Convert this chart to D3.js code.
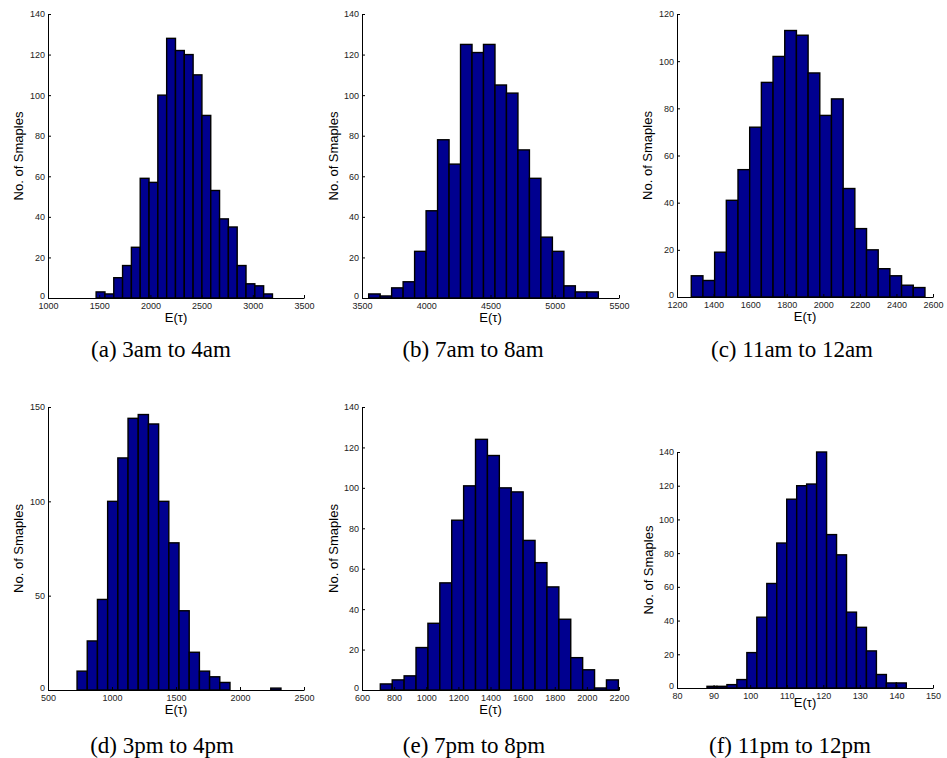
<!DOCTYPE html>
<html>
<head>
<meta charset="utf-8">
<script src="https://cdn.jsdelivr.net/npm/d3@7"></script>
<style>
  html, body { margin: 0; padding: 0; background: #fff; }
  svg { display: block; }
</style>
</head>
<body>
<svg id="chart" width="947" height="758"></svg>
<script>
// ---- Data ----
const countsA = [3,2,10,16,25,59,57,100,128,122,120,110,90,53,39,35,16,7,6,2];
const countsB = [2,1,5,8,23,43,78,66,125,121,125,105,101,73,59,30,23,6,3,3];
const countsC = [9,7,19,41,54,72,91,102,113,111,95,77,84,46,29,20,12,9,5,4];
const countsD = [10,26,48,100,123,144,146,141,100,78,42,20,10,7,4,0,0,0,0,1];
const countsE = [3,5,7,21,33,53,84,101,124,116,100,98,74,63,51,35,16,10,1,5];
const countsF = [1,1,2,5,21,42,62,86,112,120,121,140,91,79,45,36,22,8,3,3];

// histogram bin range (first edge, last edge) per panel
const binRanges = [[1470,3192],[3552,5339],[1278,2556],[727,2320],[714,2196],[88.2,142.7]];

const xDomains = [[1000,3500],[3500,5500],[1200,2600],[500,2500],[600,2200],[80,150]];
const yDomains = [[0,140],[0,140],[0,120],[0,150],[0,140],[0,140]];

const xTicksA = [1000,1500,2000,2500,3000,3500];
const xTicksB = [3500,4000,4500,5000,5500];
const xTicksC = [1200,1400,1600,1800,2000,2200,2400,2600];
const xTicksD = [500,1000,1500,2000,2500];
const xTicksE = [600,800,1000,1200,1400,1600,1800,2000,2200];
const xTicksF = [80,90,100,110,120,130,140,150];

const yTicksA = [0,20,40,60,80,100,120,140];
const yTicksB = [0,20,40,60,80,100,120,140];
const yTicksC = [0,20,40,60,80,100,120];
const yTicksD = [0,50,100,150];
const yTicksE = [0,20,40,60,80,100,120,140];
const yTicksF = [0,20,40,60,80,100,120,140];

const captions = ["(a) 3am to 4am","(b) 7am to 8am","(c) 11am to 12am",
                  "(d) 3pm to 4pm","(e) 7pm to 8pm","(f) 11pm to 12pm"];
const xLabel = "E(\u03C4)";
const yLabel = "No. of Smaples";

// ---- Layout ----
const layout = [
  {l:48,  r:304, t:14,  b:298, capX:161, capY:357, ylx:18,  xlY:322},
  {l:362, r:619, t:14,  b:298, capX:473, capY:357, ylx:333, xlY:322},
  {l:677, r:933, t:14,  b:297, capX:792, capY:357, ylx:647, xlY:321},
  {l:48,  r:304, t:407, b:690, capX:162, capY:753, ylx:18,  xlY:714},
  {l:362, r:619, t:407, b:690, capX:474, capY:753, ylx:333, xlY:714},
  {l:677, r:933, t:452, b:688, capX:790, capY:753, ylx:648, xlY:707}
];

const allCounts = [countsA,countsB,countsC,countsD,countsE,countsF];
const allXTicks = [xTicksA,xTicksB,xTicksC,xTicksD,xTicksE,xTicksF];
const allYTicks = [yTicksA,yTicksB,yTicksC,yTicksD,yTicksE,yTicksF];

const svg = d3.select("#chart");
svg.append("rect").attr("width",947).attr("height",758).attr("fill","#fff");

allCounts.forEach((counts, i) => {
  const L = layout[i];
  const x = d3.scaleLinear().domain(xDomains[i]).range([L.l, L.r]);
  const y = d3.scaleLinear().domain(yDomains[i]).range([L.b, L.t]);
  const [lo, hi] = binRanges[i];
  const w = (hi - lo) / counts.length;
  const bins = counts.map((c, k) => ({x0: lo + k*w, x1: lo + (k+1)*w, c}));

  const g = svg.append("g");

  g.selectAll("rect.bar").data(bins).enter().append("rect")
    .attr("class","bar")
    .attr("x", d => x(d.x0))
    .attr("width", d => x(d.x1) - x(d.x0))
    .attr("y", d => y(d.c))
    .attr("height", d => y(0) - y(d.c))
    .attr("fill", "#00008F")
    .attr("stroke", "#000")
    .attr("stroke-width", 1.4);

  const xAxis = d3.axisBottom(x).tickValues(allXTicks[i]).tickFormat(d3.format("d"))
    .tickSizeInner(-3).tickSizeOuter(0).tickPadding(5);
  const yAxis = d3.axisLeft(y).tickValues(allYTicks[i]).tickFormat(d3.format("d"))
    .tickSizeInner(-3).tickSizeOuter(0).tickPadding(3);

  const gx = g.append("g").attr("transform", `translate(0,${L.b})`).call(xAxis);
  const gy = g.append("g").attr("transform", `translate(${L.l},0)`).call(yAxis);
  // nudge the y "0" label up slightly, as in the reference
  gy.selectAll(".tick text").filter(d => d === 0).attr("dy", "0.1em");
  [gx, gy].forEach(a => {
    a.selectAll("path.domain").attr("stroke","#000").attr("stroke-width",1);
    a.selectAll(".tick line").attr("stroke","#000").attr("stroke-width",1);
    a.selectAll(".tick text").attr("fill","#222")
      .style("font-family","'Liberation Sans', Arial, Helvetica, sans-serif")
      .style("font-size","9px");
  });

  g.append("text")
    .attr("x", (L.l + L.r)/2).attr("y", L.xlY)
    .attr("text-anchor","middle")
    .style("font-family","'Liberation Sans', Arial, Helvetica, sans-serif")
    .style("font-size","13px").attr("fill","#000")
    .text(xLabel);

  g.append("text")
    .attr("transform", `translate(${L.ylx},${(L.t + L.b)/2}) rotate(-90)`)
    .attr("dy","0.35em")
    .attr("text-anchor","middle")
    .style("font-family","'Liberation Sans', Arial, Helvetica, sans-serif")
    .style("font-size","13px").attr("fill","#000")
    .text(yLabel);

  g.append("text")
    .attr("x", L.capX).attr("y", L.capY)
    .attr("text-anchor","middle")
    .style("font-family","'Liberation Serif', 'Times New Roman', serif")
    .style("font-size","23px").attr("fill","#000")
    .text(captions[i]);
});
</script>
</body>
</html>
